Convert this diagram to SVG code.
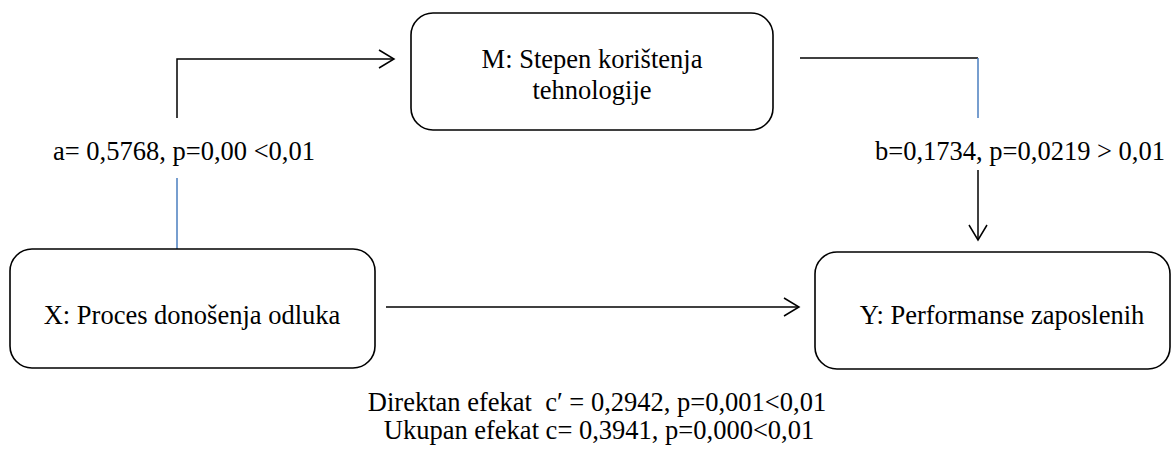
<svg xmlns="http://www.w3.org/2000/svg" width="1172" height="450" viewBox="0 0 1172 450">
<style>
.box{fill:#fff;stroke:#000;stroke-width:1.6}
.k{fill:none;stroke:#000;stroke-width:1.5}
.b{fill:none;stroke:#4a7ebf;stroke-width:1.5}
</style>
<defs>
<marker id="arr" markerWidth="20" markerHeight="22" refX="17" refY="11" orient="auto" markerUnits="userSpaceOnUse">
<path d="M2,2 L17,11 L2,20" fill="none" stroke="#000" stroke-width="1.5"/>
</marker>
</defs>
<g id="connectors">
<path class="b" d="M177,249 V178"/>
<path class="k" d="M177,118 V59 H394" marker-end="url(#arr)"/>
<path class="k" d="M800,58 H978"/>
<path class="b" d="M978,58 V118"/>
<path class="k" d="M978,170 V240" marker-end="url(#arr)"/>
<path class="k" d="M386,307 H799" marker-end="url(#arr)"/>
</g>
<g font-family="Liberation Serif, Times New Roman, serif" font-size="26.5" fill="#000">
<g id="node-M">
<rect class="box" x="411" y="13" width="362" height="117" rx="22"/>
<text text-anchor="middle" x="592" y="68">M: Stepen korištenja</text>
<text text-anchor="middle" x="592" y="99">tehnologije</text>
</g>
<g id="node-X">
<rect class="box" x="10" y="249" width="365" height="119" rx="22"/>
<text text-anchor="middle" x="192" y="324">X: Proces donošenja odluka</text>
</g>
<g id="node-Y">
<rect class="box" x="815" y="252" width="355" height="117" rx="22"/>
<text text-anchor="middle" x="1002" y="324">Y: Performanse zaposlenih</text>
</g>
<g id="labels">
<text x="53" y="160">a= 0,5768, p=0,00 &lt;0,01</text>
<text x="875" y="160">b=0,1734, p=0,0219 &gt; 0,01</text>
<text text-anchor="middle" x="597" y="411" xml:space="preserve">Direktan efekat  c′ = 0,2942, p=0,001&lt;0,01</text>
<text text-anchor="middle" x="599" y="439">Ukupan efekat c= 0,3941, p=0,000&lt;0,01</text>
</g>
</g>
</svg>
